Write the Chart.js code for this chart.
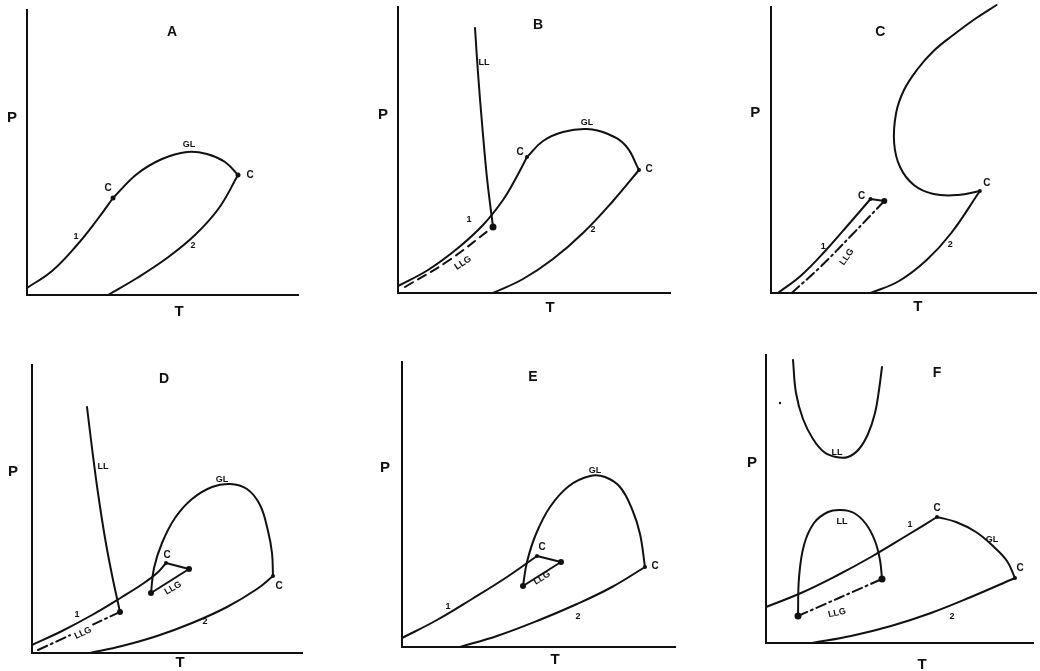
<!DOCTYPE html>
<html><head><meta charset="utf-8">
<script src="https://cdn.jsdelivr.net/npm/chart.js@4.4.1/dist/chart.umd.min.js"></script>
<style>
html,body{margin:0;padding:0;background:#fff;}
body{width:1040px;height:671px;position:relative;overflow:hidden;}
canvas{position:absolute;}
</style>
</head><body>
<script>
// ---------- DATA (arbitrary T, P units) ----------
// Panel A
const A_curve1 = [[0,7],[25,24],[50,50],[70,75],[86,97]];
const A_gl     = [[86,97],[110,121],[135,136],[160,143],[180,141],[198,133],[211,120]];
const A_curve2 = [[81,0],[110,17],[140,37],[168,60],[192,87],[211,120]];
const A_crit   = [[86,97],[211,120]];
// Panel B
const B_curve1 = [[0,7],[30,23],[60,45],[85,68],[105,93],[118,115],[129,136]];
const B_gl     = [[129,136],[145,152],[165,161],[189,164],[210,159],[228,147],[241,123]];
const B_curve2 = [[95,0],[125,14],[155,34],[185,60],[215,92],[241,123]];
const B_ll     = [[77,265],[80,220],[84,170],[89,115],[95,66]];
const B_llg    = [[7,6],[50,32],[95,66]];
const B_crit   = [[129,136],[241,123]];
const B_ends   = [[95,66]];
// Panel C
const C_curve1 = [[7,0],[30,17],[55,42],[80,70],[101,94]];
const C_tie    = [[101,94],[115,92]];
const C_llg    = [[21,0],[50,26],[82,58],[115,92]];
const C_curve2 = [[101,0],[130,12],[158,33],[183,60],[212,102]];
const C_gl     = [[212,102],[190,98],[165,99],[145,108],[131,126],[125,150],[127,180],[135,203],[148,223],[165,242],[185,258],[207,274],[229,288]];
const C_crit   = [[101,94],[212,102]];
const C_ends   = [[115,92]];
// Panel D
const D_curve1 = [[0,8],[30,22],[60,38],[90,56],[112,70],[125,80],[134,90]];
const D_tie    = [[134,90],[157,84]];
const D_llgUp  = [[119,60],[157,84]];
const D_ll     = [[55,246],[60,205],[66,160],[73,115],[80,78],[88,41]];
const D_llgLow = [[6,3],[88,41]];
const D_curve2 = [[58,0],[90,7],[125,17],[160,30],[195,46],[225,64],[241,77]];
const D_gl     = [[119,60],[122,85],[130,110],[143,135],[160,154],[180,166],[198,169],[215,164],[228,148],[236,122],[240,100],[241,77]];
const D_crit   = [[134,90],[241,77]];
const D_ends   = [[88,41],[157,84],[119,60]];
// Panel E
const E_curve1 = [[0,9],[35,27],[70,48],[105,70],[135,91]];
const E_tie    = [[135,91],[159,85]];
const E_llg    = [[121,61],[159,85]];
const E_gl     = [[121,61],[125,85],[134,113],[148,140],[167,161],[188,171],[203,170],[218,160],[230,138],[238,113],[243,80]];
const E_curve2 = [[58,0],[95,11],[135,26],[175,43],[210,60],[243,80]];
const E_crit   = [[135,91],[243,80]];
const E_ends   = [[159,85],[121,61]];
// Panel F
const F_curve1 = [[0,36],[35,50],[70,67],[105,86],[140,107],[171,126]];
const F_gl     = [[171,126],[190,121],[210,111],[228,96],[241,82],[249,65]];
const F_curve2 = [[46,0],[85,7],[125,17],[165,30],[205,46],[249,65]];
const F_llLow  = [[32,27],[33,65],[38,98],[48,120],[62,131],[75,133],[88,130],[100,119],[109,102],[114,83],[116,64]];
const F_llg    = [[32,27],[116,64]];
const F_llUp   = [[27,283],[30,250],[37,224],[47,204],[58,191],[70,186],[82,186],[93,194],[102,209],[109,230],[113,253],[116,276]];
const F_crit   = [[171,126],[249,65]];
const F_ends   = [[32,27],[116,64]];
const F_speck  = [[14,240]];

// Text labels: [text, T, P, kind, rotationDeg]
const A_labels = [['A',145,263,'title'],['P',-15,177,'axis'],['T',152,-17,'axis'],['GL',162,150,'s'],['C',81,107,'c'],['C',223,120,'c'],['1',49,58,'s'],['2',166,49,'s']];
const B_labels = [['B',140,268,'title'],['P',-15,178,'axis'],['T',152,-15,'axis'],['LL',86,230,'s'],['GL',189,170,'s'],['C',122,141,'c'],['C',251,124,'c'],['1',71,73,'s'],['2',195,63,'s'],['LLG',65,30,'bg',-33]];
const C_labels = [['C',111,261,'title'],['P',-16,180,'axis'],['T',149,-14,'axis'],['C',92,97,'c'],['C',219,110,'c'],['1',53,46,'s'],['LLG',77,36,'bg',-55],['2',182,48,'s']];
const D_labels = [['D',132,274,'title'],['P',-19,181,'axis'],['T',148,-10,'axis'],['LL',71,186,'s'],['GL',190,173,'s'],['C',135,98,'c'],['C',247,67,'c'],['1',45,38,'s'],['2',173,31,'s'],['LLG',51,20,'bg',-25],['LLG',141,65,'s',-30]];
const E_labels = [['E',131,270,'title'],['P',-17,179,'axis'],['T',153,-13,'axis'],['GL',193,176,'s'],['C',140,100,'c'],['C',253,81,'c'],['1',46,40,'s'],['2',176,30,'s'],['LLG',140,69,'s',-32]];
const F_labels = [['F',171,270,'title'],['P',-14,180,'axis'],['T',156,-22,'axis'],['LL',71,190,'s'],['LL',76,121,'s'],['1',144,118,'s'],['C',171,135,'c'],['GL',226,103,'s'],['C',254,75,'c'],['2',186,26,'s'],['LLG',71,30,'bg',-12]];

// ---------- RENDERING ----------
const INK = '#111';
const DASH = [9,6];
const DASHDOT = [10,4,2,4];
const toPts = a => a.map(([x,y]) => ({x, y}));
function line(arr, dash){
  return {data: toPts(arr), showLine: true, borderColor: INK, borderWidth: 2, pointRadius: 0,
          tension: 0.4, capBezierPoints: false,
          borderDash: dash || [], fill: false, clip: false, borderCapStyle: 'round', borderJoinStyle: 'round'};
}
function dots(arr, r){
  return {data: toPts(arr), showLine: false, pointRadius: r, pointBackgroundColor: INK,
          pointBorderColor: INK, pointBorderWidth: 0, clip: false};
}
const FONTS = {
  title: 'bold 14px "Liberation Sans", Arial, sans-serif',
  axis: 'bold 15px "Liberation Sans", Arial, sans-serif',
  s: 'bold 9px "Liberation Sans", Arial, sans-serif',
  bg: 'bold 9px "Liberation Sans", Arial, sans-serif',
  c: 'bold 10px "Liberation Sans", Arial, sans-serif'
};
function labelPlugin(items){
  return {
    id: 'letters',
    afterDatasetsDraw(chart){
      const {ctx} = chart, sx = chart.scales.x, sy = chart.scales.y;
      ctx.save();
      ctx.textAlign = 'center'; ctx.textBaseline = 'middle';
      for (const [t, x, y, kind, rot] of items){
        const px = sx.getPixelForValue(x), py = sy.getPixelForValue(y);
        ctx.save();
        ctx.translate(px, py);
        if (rot) ctx.rotate(rot * Math.PI / 180);
        ctx.font = FONTS[kind];
        if (kind === 'bg'){
          const w = ctx.measureText(t).width;
          ctx.fillStyle = '#fff';
          ctx.fillRect(-w/2 - 3, -5, w + 6, 10);
        }
        ctx.fillStyle = INK;
        ctx.fillText(t, 0, 0);
        ctx.restore();
      }
      ctx.restore();
    }
  };
}

const PAD_L = 28, PAD_T = 10, PAD_R = 20, PAD_B = 30;
function panel(geo, datasets, labels){
  const c = document.createElement('canvas');
  const padR = geo.padR !== undefined ? geo.padR : PAD_R;
  const w = PAD_L + geo.W + padR, h = PAD_T + geo.H + PAD_B;
  c.width = w; c.height = h;
  c.style.width = w + 'px'; c.style.height = h + 'px';
  c.style.left = (geo.x0 - PAD_L) + 'px';
  c.style.top = (geo.y0 - geo.H - PAD_T) + 'px';
  document.body.appendChild(c);
  const axis = (max) => ({type: 'linear', min: 0, max: max, display: true,
    ticks: {display: false}, grid: {display: false, drawTicks: false},
    border: {display: true, color: INK, width: 2}, title: {display: false}});
  new Chart(c, {
    type: 'scatter',
    data: {datasets},
    options: {
      responsive: false, animation: false, events: [],
      layout: {padding: {left: PAD_L, top: PAD_T, right: padR, bottom: PAD_B}},
      plugins: {legend: {display: false}, tooltip: {enabled: false}, title: {display: false}},
      scales: {x: axis(geo.W), y: axis(geo.H)}
    },
    plugins: [labelPlugin(labels)]
  });
}

panel({x0: 27, y0: 295, W: 271, H: 285},
  [line(A_curve1), line(A_gl), line(A_curve2), dots(A_crit, 2.5)], A_labels);
panel({x0: 398, y0: 293, W: 272, H: 286},
  [line(B_curve1), line(B_gl), line(B_curve2), line(B_ll), line(B_llg, DASH), dots(B_crit, 2), dots(B_ends, 3.5)], B_labels);
panel({x0: 771, y0: 293, W: 269, H: 286, padR: 0},
  [line(C_curve1), line(C_tie), line(C_llg, DASHDOT), line(C_curve2), line(C_gl), dots(C_crit, 2), dots(C_ends, 3)], C_labels);
panel({x0: 32, y0: 653, W: 270, H: 288},
  [line(D_curve1), line(D_tie), line(D_llgUp), line(D_ll), line(D_llgLow, DASHDOT), line(D_curve2), line(D_gl), dots(D_crit, 2), dots(D_ends, 3)], D_labels);
panel({x0: 402, y0: 647, W: 273, H: 285},
  [line(E_curve1), line(E_tie), line(E_llg), line(E_gl), line(E_curve2), dots(E_crit, 2), dots(E_ends, 3)], E_labels);
panel({x0: 766, y0: 643, W: 267, H: 288},
  [line(F_curve1), line(F_gl), line(F_curve2), line(F_llLow), line(F_llg, DASHDOT), line(F_llUp), dots(F_crit, 2), dots(F_ends, 3.5), dots(F_speck, 1.2)], F_labels);
</script>
</body></html>
